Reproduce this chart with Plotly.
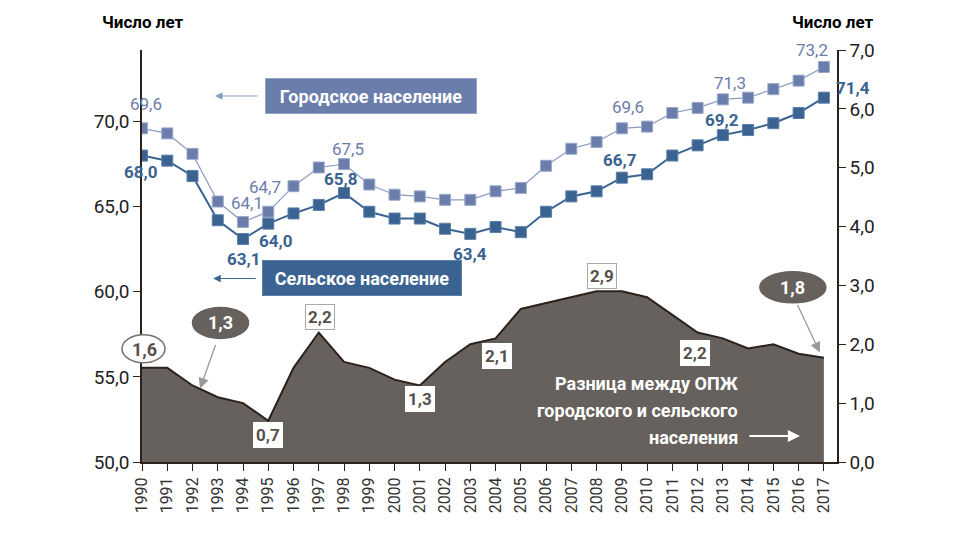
import plotly.graph_objects as go

years = list(range(1990, 2018))

urban = [69.6, 69.3, 68.1, 65.3, 64.1, 64.7, 66.2, 67.3, 67.5, 66.3,
         65.7, 65.6, 65.4, 65.4, 65.9, 66.1, 67.4, 68.4, 68.8, 69.6,
         69.7, 70.5, 70.8, 71.3, 71.4, 71.9, 72.4, 73.2]
rural = [68.0, 67.7, 66.8, 64.2, 63.1, 64.0, 64.6, 65.1, 65.8, 64.7,
         64.3, 64.3, 63.7, 63.4, 63.8, 63.5, 64.7, 65.6, 65.9, 66.7,
         66.9, 68.0, 68.6, 69.2, 69.5, 69.9, 70.5, 71.4]
diff = [1.6, 1.6, 1.3, 1.1, 1.0, 0.7, 1.6, 2.2, 1.7, 1.6,
        1.4, 1.3, 1.7, 2.0, 2.1, 2.6, 2.7, 2.8, 2.9, 2.9,
        2.8, 2.5, 2.2, 2.1, 1.93, 2.0, 1.84, 1.77]

left_ticks = [50, 55, 60, 65, 70]
right_ticks = [0, 1, 2, 3, 4, 5, 6, 7]

FONT = "Roboto, Liberation Sans, sans-serif"
URBAN_C = "#6b7dab"
RURAL_C = "#3a6391"
AREA_C = "#67615d"
DARK = "#2b221c"

X_RANGE = [1990, 2017.52]
Y2_RANGE = [0, 7]


def fmt(v):
    return f"{v:.1f}".replace(".", ",")


fig = go.Figure()

# difference area (right axis)
fig.add_trace(go.Scatter(
    x=years, y=diff, yaxis="y2", mode="lines",
    line=dict(color=DARK, width=2), fill="tozeroy", fillcolor=AREA_C,
    hoverinfo="skip", showlegend=False
))

fig.add_trace(go.Scatter(
    x=years, y=urban, mode="lines+markers",
    line=dict(color="#8b9bc3", width=1.2),
    marker=dict(symbol="square", size=11, color=URBAN_C, line=dict(color="#9aa8cc", width=1)),
    showlegend=False
))
fig.add_trace(go.Scatter(
    x=years, y=rural, mode="lines+markers",
    line=dict(color=RURAL_C, width=2),
    marker=dict(symbol="square", size=11, color=RURAL_C, line=dict(color="#5a7fa8", width=1)),
    showlegend=False
))

ann = []

# value labels on the lines: (year, xshift, yshift)
urban_lbl = [(1990, 4, 24), (1994, 4, 19), (1995, -3, 25), (1998, 4, 15),
             (2009, 6, 21), (2013, 7, 16), (2017, -12, 17)]
rural_lbl = [(1990, -2, -16), (1994, 0, -20), (1995, 7, -17), (1998, -4, 14),
             (2003, 0, -20), (2009, -2, 18), (2013, -1, 15), (2017, 29, 10)]
for yr, xs, ys in urban_lbl:
    v = urban[years.index(yr)]
    ann.append(dict(x=yr, y=v, text=fmt(v), showarrow=False, xshift=xs, yshift=ys,
                    font=dict(family=FONT, size=17, color=URBAN_C)))
for yr, xs, ys in rural_lbl:
    v = rural[years.index(yr)]
    ann.append(dict(x=yr, y=v, text="<b>" + fmt(v) + "</b>", showarrow=False, xshift=xs, yshift=ys,
                    font=dict(family=FONT, size=17, color=RURAL_C)))

# difference labels in boxes
box_lbl = [(1995, 0, -14, None), (1997, 1, 16, "#a8a8a8"), (2001, 0, -14, None),
           (2004, 1, -18, None), (2008, 5, 15, "#a8a8a8"), (2012, -3, -20, None)]
for yr, xs, ys, bc in box_lbl:
    v = diff[years.index(yr)]
    ann.append(dict(x=yr, y=v, yref="y2", text="<b>" + fmt(v) + "</b>", showarrow=False,
                    xshift=xs, yshift=ys, bgcolor="white", bordercolor=bc or "white",
                    borderwidth=1, borderpad=2,
                    font=dict(family=FONT, size=17, color="#57514d")))

# ellipse labels (paper refs so the 1990 one is not clipped at the axis)
shapes = []
ell = [(1990, -20, 23, 5, 33, "white", "#77716d", "#57514d", 2, 18),
       (1992, 0, 56, 47, 78, AREA_C, AREA_C, "white", 28, 63),
       (2017, -64, 2, 55, 86, AREA_C, AREA_C, "white", -31, 70)]
for yr, x0, x1, y0, y1, fc, lc, tc, xs, ys in ell:
    v = diff[years.index(yr)]
    px = (yr - X_RANGE[0]) / (X_RANGE[1] - X_RANGE[0])
    py = (v - Y2_RANGE[0]) / (Y2_RANGE[1] - Y2_RANGE[0])
    shapes.append(dict(type="circle", xref="paper", yref="paper", xsizemode="pixel", ysizemode="pixel",
                       xanchor=px, yanchor=py, x0=x0, x1=x1, y0=y0, y1=y1,
                       fillcolor=fc, line=dict(color=lc, width=1.5)))
    ann.append(dict(x=yr, y=v, yref="y2", text="<b>" + fmt(v) + "</b>", showarrow=False,
                    xshift=xs, yshift=ys, font=dict(family=FONT, size=18, color=tc)))

# grey arrows from ellipses
ann.append(dict(x=1992.3, y=1.25, yref="y2", text="", showarrow=True, ax=16, ay=-45,
                arrowcolor="#999999", arrowwidth=1.3, arrowhead=2, arrowsize=1.6, standoff=0))
ann.append(dict(x=2016.84, y=1.86, yref="y2", text="", showarrow=True, ax=-23, ay=-49,
                arrowcolor="#999999", arrowwidth=1.3, arrowhead=2, arrowsize=1.6, standoff=0))

# series name boxes
ann.append(dict(x=1999.07, y=71.5, text="<b>Городское население</b>", showarrow=False,
                width=200, height=24, borderpad=5, bgcolor=URBAN_C, bordercolor="#95a4c8",
                borderwidth=1, font=dict(family=FONT, size=18, color="white")))
ann.append(dict(x=1992.89, y=71.5, text="", showarrow=True, ax=44, ay=0,
                arrowcolor="#8b9bc3", arrowwidth=1, arrowhead=2, arrowsize=1.5, standoff=0))
ann.append(dict(x=1998.7, y=60.78, text="<b>Сельское население</b>", showarrow=False,
                width=188, height=24, borderpad=5, bgcolor=RURAL_C, bordercolor="#5a7fa8",
                borderwidth=1, font=dict(family=FONT, size=18, color="white")))
ann.append(dict(x=1992.82, y=60.78, text="", showarrow=True, ax=44, ay=0,
                arrowcolor=RURAL_C, arrowwidth=1, arrowhead=2, arrowsize=1.5, standoff=0))

# area caption
caption = ["Разница между ОПЖ", "городского и сельского", "населения"]
for i, line in enumerate(caption):
    ann.append(dict(x=2013.67, y=0.88, yref="y2", text="<b>" + line + "</b>", showarrow=False,
                    xanchor="right", yshift=27 - 27 * i,
                    font=dict(family=FONT, size=18, color="white")))
ann.append(dict(x=2016.05, y=0.44, yref="y2", text="", showarrow=True, ax=-52, ay=0,
                arrowcolor="white", arrowwidth=2, arrowhead=2, arrowsize=1.2, standoff=0))

# axis titles
for xp in [0, 0.993]:
    ann.append(dict(x=xp, y=1.068, xref="paper", yref="paper", xanchor="center", yanchor="middle",
                    text="<b>Число лет</b>", showarrow=False,
                    font=dict(family=FONT, size=17, color="black")))

# page body has an 8px margin, so the figure is shifted by that much
fig.update_layout(
    width=955, height=539,
    margin=dict(l=134, r=126, t=42, b=85),
    paper_bgcolor="white", plot_bgcolor="white",
    separators=", ",
    font=dict(family=FONT, size=18, color="#222"),
    xaxis=dict(range=X_RANGE, tickvals=years, ticktext=[str(y) for y in years],
               tickangle=-90, ticks="outside", ticklen=7, tickcolor=DARK,
               showline=True, linecolor=DARK, linewidth=2, showgrid=False, zeroline=False,
               tickfont=dict(family=FONT, size=16, color="#333")),
    yaxis=dict(range=[50, 74.2], tickvals=left_ticks, tickformat=".1f",
               ticks="outside", ticklen=7, tickcolor=DARK,
               showline=True, linecolor=DARK, linewidth=1.5, showgrid=False, zeroline=False,
               tickfont=dict(family=FONT, size=19, color="#222")),
    yaxis2=dict(range=Y2_RANGE, tickvals=right_ticks, tickformat=".1f", overlaying="y", side="right",
                ticks="outside", ticklen=7, tickcolor=DARK,
                showline=True, linecolor=DARK, linewidth=1.5, showgrid=False, zeroline=False,
                tickfont=dict(family=FONT, size=19, color="#222")),
    annotations=ann,
    shapes=shapes,
)

fig.write_html("out.html")
